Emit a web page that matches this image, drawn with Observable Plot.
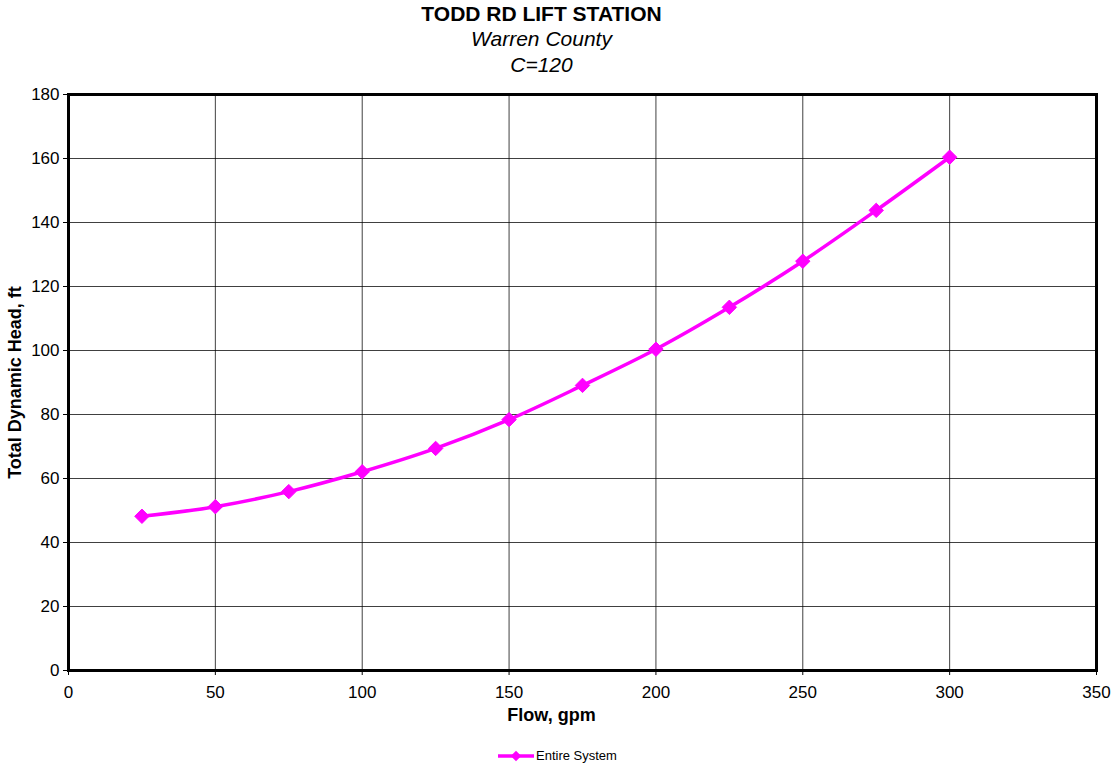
<!DOCTYPE html>
<html>
<head>
<meta charset="utf-8">
<script src="https://cdn.jsdelivr.net/npm/d3@7"></script>
<script src="https://cdn.jsdelivr.net/npm/@observablehq/plot@0.6"></script>
<style>
  html, body { margin: 0; padding: 0; background: #fff; }
  body { width: 1115px; height: 765px; overflow: hidden; font-family: "Liberation Sans", Arial, sans-serif; }
  #titles { height: 80px; text-align: center; width: 1083px; color: #000; }
  #titles .t1 { font-weight: bold; font-size: 21px; line-height: 25px; padding-top: 1px; }
  #titles .t2 { font-style: italic; font-size: 21px; line-height: 26px; }
  #chart svg { display: block; font-family: "Liberation Sans", Arial, sans-serif; }
  #chart [aria-label="y-axis label"] text { font-weight: bold; font-size: 18px; }
  #chart .xlab text { font-weight: bold; }
  #legend { width: 1115px; height: 25px; position: relative; font-size: 13px; }
  #legend .item { position: absolute; left: 497px; top: 8px; display: flex; align-items: center; }
</style>
</head>
<body>
<div id="titles">
  <div class="t1">TODD RD LIFT STATION</div>
  <div class="t2">Warren County</div>
  <div class="t2">C=120</div>
</div>
<div id="chart"></div>
<div id="legend"></div>
<script>
const flow = [25, 50, 75, 100, 125, 150, 175, 200, 225, 250, 275, 300];
const head = [48.2, 51.2, 55.9, 62.1, 69.4, 78.4, 89.1, 100.4, 113.5, 127.9, 143.8, 160.4];
const xTicks = [0, 50, 100, 150, 200, 250, 300, 350];
const yTicks = [0, 20, 40, 60, 80, 100, 120, 140, 160, 180];
const seriesName = "Entire System";
const xLabel = "Flow, gpm";
const yLabel = "Total Dynamic Head, ft";
const color = "#ff00ff";

const data = flow.map((f, i) => ({flow: f, head: head[i]}));

const chart = Plot.plot({
  width: 1115,
  height: 660,
  marginLeft: 68,
  marginRight: 19,
  marginTop: 14,
  marginBottom: 70,
  style: {fontSize: "17px", color: "#000"},
  x: {domain: [0, 350]},
  y: {domain: [0, 180]},
  marks: [
    Plot.ruleX(xTicks, {stroke: "#000", strokeOpacity: 0.75, strokeWidth: 1}),
    Plot.ruleY(yTicks, {stroke: "#000", strokeOpacity: 0.75, strokeWidth: 1}),
    Plot.axisX({ticks: xTicks, tickSize: 5, tickPadding: 10, label: null, tickFormat: d => String(d)}),
    Plot.axisY({ticks: yTicks, tickSize: 5, tickPadding: 4, label: yLabel, labelAnchor: "center", labelArrow: false, labelOffset: 60, tickFormat: d => String(d)}),
    Plot.text([xLabel], {frameAnchor: "bottom", dy: 50, dx: -31, fontSize: 18, className: "xlab", fill: "#000"}),
    Plot.frame({stroke: "#000", strokeWidth: 3}),
    Plot.line(data, {x: "flow", y: "head", stroke: color, strokeWidth: 3.5, curve: "catmull-rom"}),
    Plot.dot(data, {x: "flow", y: "head", symbol: "diamond2", r: 6.5, fill: color, stroke: color, strokeWidth: 1})
  ]
});
document.getElementById("chart").appendChild(chart);

const legend = document.getElementById("legend");
const item = document.createElement("div");
item.className = "item";
const sw = d3.create("svg").attr("width", 38).attr("height", 14);
sw.append("line").attr("x1", 1).attr("x2", 37).attr("y1", 7).attr("y2", 7).attr("stroke", color).attr("stroke-width", 3.5);
sw.append("path").attr("d", d3.symbol(d3.symbolDiamond2, 70)()).attr("transform", "translate(19,7)").attr("fill", color);
item.appendChild(sw.node());
const lab = document.createElement("span");
lab.textContent = seriesName;
lab.style.marginLeft = "1px";
item.appendChild(lab);
legend.appendChild(item);
</script>
</body>
</html>
